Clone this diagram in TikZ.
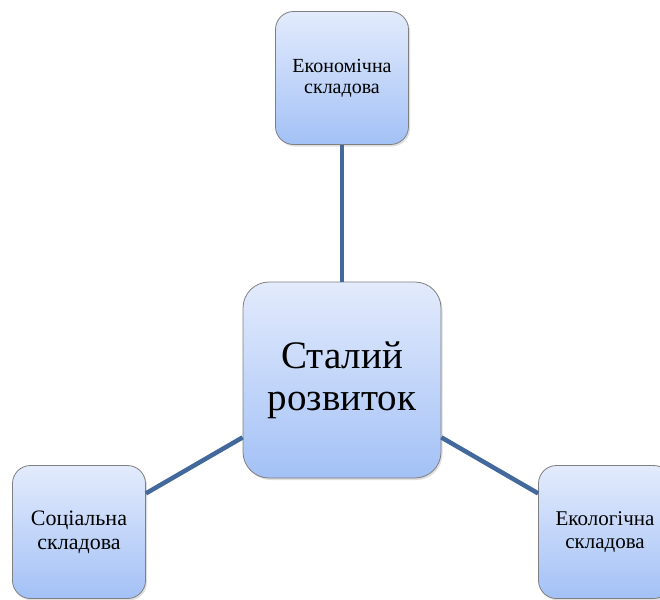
\documentclass[tikz,border=0pt]{standalone}
\usepackage{xcolor}
\usepackage{fontspec}
\setmainfont{Liberation Serif}
\usetikzlibrary{shadows}

\definecolor{boxtop}{HTML}{E3EBFC}
\definecolor{boxbottom}{HTML}{A3C1F6}
\definecolor{boxline}{HTML}{7F7F7F}
\definecolor{linkblue}{HTML}{43689C}

\tikzset{
  part/.style={draw=boxline, line width=0.8pt, rounded corners=18pt,
    top color=boxtop, bottom color=boxbottom,
    minimum width=133pt, minimum height=133pt, align=center,
    drop shadow={opacity=0.25, shadow xshift=1.5pt, shadow yshift=-2pt},
    font=\fontsize{21}{23.5}\selectfont},
  core/.style={part, rounded corners=26pt,
    minimum width=198pt, minimum height=196pt,
    font=\fontsize{39}{42}\selectfont},
  link/.style={draw=linkblue, line width=4.5pt}
}

\begin{document}
\begin{tikzpicture}[x=1pt,y=-1pt]
                \useasboundingbox (0,0) rectangle (660,599);

                \node[core] (sd) at (342,380) {Сталий\\розвиток};

                \node[part, font=\fontsize{20}{21}\selectfont] (econ) at (342,78) {Економічна\\складова};
                \node[part, font=\fontsize{22}{24}\selectfont] (soc) at (79,532) {Соціальна\\складова};
                \node[part] (eco) at (605,532) {Екологічна\\складова};

                \draw[link] (econ) -- (sd);
                \draw[link] (soc) -- (sd);
                \draw[link] (eco) -- (sd);
            \end{tikzpicture}
\end{document}
